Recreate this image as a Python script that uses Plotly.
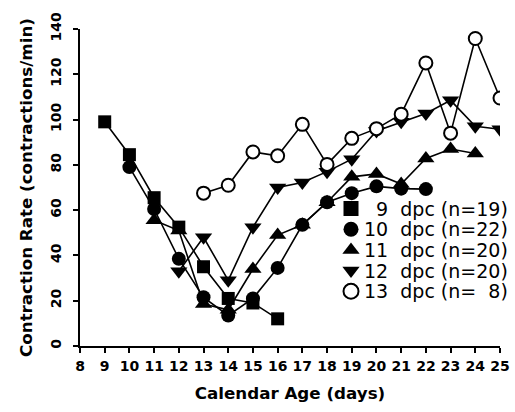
import plotly.graph_objects as go

days_9 = [9, 10, 11, 12, 13, 14, 15, 16]
rate_9 = [99, 84.5, 65.5, 52.5, 35, 21, 19, 12]

days_10 = [10, 11, 12, 13, 14, 15, 16, 17, 18, 19, 20, 21, 22]
rate_10 = [79, 60.5, 38.5, 21.5, 13.5, 21, 34.5, 53.5, 63.5, 67.5, 70.5, 69.5, 69.3]

days_11 = [11, 12, 13, 14, 15, 16, 17, 18, 19, 20, 21, 22, 23, 24]
rate_11 = [55.5, 51, 18.5, 16, 34, 49, 53.5, 63.5, 74.7, 76, 71.5, 82.8, 87, 85]

days_12 = [12, 13, 14, 15, 16, 17, 18, 19, 20, 21, 22, 23, 24, 25]
rate_12 = [33, 48, 29, 52.5, 70, 72.2, 77, 82.5, 95, 99, 102.7, 108.5, 97, 95.7]

days_13 = [13, 14, 15, 16, 17, 18, 19, 20, 21, 22, 23, 24, 25]
rate_13 = [67.5, 71, 85.7, 84, 97.9, 80.2, 91.7, 96, 102.4, 125, 94, 135.8, 109.5]

legend_labels = ["\u20079\u00a0\u00a0dpc (n=19)",
                 "10\u00a0\u00a0dpc (n=22)",
                 "11\u00a0\u00a0dpc (n=20)",
                 "12\u00a0\u00a0dpc (n=20)",
                 "13\u00a0\u00a0dpc (n=\u20078)"]
x_ticks = list(range(8, 26))
y_ticks = list(range(0, 141, 20))

series = [
    (days_9, rate_9, "square", "black", 13),
    (days_10, rate_10, "circle", "black", 14),
    (days_11, rate_11, "triangle-up", "black", 15),
    (days_12, rate_12, "triangle-down", "black", 15),
    (days_13, rate_13, "circle", "white", 13),
]

fig = go.Figure()
for (dx, dy, sym, fillc, sz), nm in zip(series, legend_labels):
    mk = dict(symbol=sym, size=sz, color=fillc,
              line=dict(color="black", width=2 if fillc == "white" else 0))
    fig.add_trace(go.Scatter(
        x=dx, y=dy, name=nm, mode="lines+markers",
        line=dict(color="black", width=1.6), marker=mk, showlegend=False,
    ))
# legend-only symbol entries (no data)
for (dx, dy, sym, fillc, sz), nm in zip(series, legend_labels):
    mk = dict(symbol=sym, size=15, color=fillc,
              line=dict(color="black", width=2 if fillc == "white" else 0))
    fig.add_trace(go.Scatter(x=[None], y=[None], name="\u00a0", mode="markers",
                             marker=mk, showlegend=True, hoverinfo="skip"))

# layout geometry (pixels)
L, R, T, B = 80, 15, 29, 66
W, H = 515, 412
pw, ph = W - L - R, H - T - B
def px_x(p):
    return (p - L) / pw
def px_y(p):
    return (H - B - p) / ph

row_step = 20.7
first_row = 208.5
annotations = []
for i, lab in enumerate(legend_labels):
    annotations.append(dict(
        x=px_x(362), y=px_y(first_row + i * row_step), xref="paper", yref="paper",
        xanchor="left", yanchor="middle", showarrow=False, text=lab,
        font=dict(family="DejaVu Sans", size=19, color="black")))

tick_font = dict(family="DejaVu Sans", size=14, color="black", weight="bold")
title_font = dict(family="DejaVu Sans", size=16.7, color="black", weight="bold")
fig.update_layout(
    width=W, height=H,
    margin=dict(l=L, r=R, t=T, b=B, pad=0),
    paper_bgcolor="white", plot_bgcolor="white",
    showlegend=True,
    legend=dict(x=px_x(331), y=px_y(first_row - 15.3), xanchor="left", yanchor="top",
                font=dict(family="DejaVu Sans", size=13.6, color="black"),
                bgcolor="rgba(0,0,0,0)", itemwidth=30, tracegroupgap=0, borderwidth=0),
    annotations=annotations,
    xaxis=dict(range=[8, 25], tickmode="array", tickvals=x_ticks,
               ticktext=[str(v) for v in x_ticks], automargin=False,
               showline=True, linecolor="black", linewidth=2,
               ticks="outside", ticklen=5, tickwidth=1.5, tickcolor="black",
               ticklabelstandoff=1,
               showgrid=False, zeroline=False, tickfont=tick_font,
               title=dict(text="Calendar Age (days)", standoff=15, font=title_font)),
    yaxis=dict(range=[0, 140], tickmode="array", tickvals=y_ticks,
               ticktext=[str(v) for v in y_ticks], tickangle=-90, automargin=False,
               showline=True, linecolor="black", linewidth=2,
               ticks="outside", ticklen=5, tickwidth=1.5, tickcolor="black",
               ticklabelstandoff=6,
               showgrid=False, zeroline=False, tickfont=tick_font,
               title=dict(text="Contraction Rate (contractions/min)", standoff=12, font=title_font)),
)
fig.write_html("out.html", config={"displayModeBar": False},
               post_script="document.body.style.margin='0';document.body.style.overflow='hidden';")
